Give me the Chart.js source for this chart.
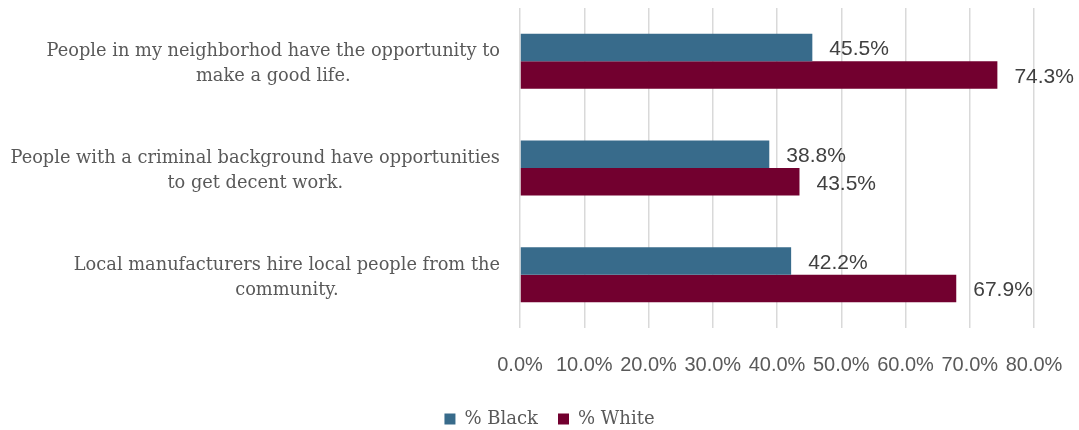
<!DOCTYPE html>
<html>
<head>
<meta charset="utf-8">
<script src="https://cdn.jsdelivr.net/npm/chart.js@4.4.1/dist/chart.umd.min.js"></script>
<style>
html,body{margin:0;padding:0;background:#fff;}
#wrap{width:1079px;height:430px;position:relative;}
</style>
</head>
<body>
<div id="wrap"><canvas id="c" width="1079" height="430"></canvas></div>
<script>
const categories = [
  ["People in my neighborhod have the opportunity to", "make a good life."],
  ["People with a criminal background have opportunities", "to get decent work."],
  ["Local manufacturers hire local people from the", "community."]
];
const blackValues = [45.5, 38.8, 42.2];
const whiteValues = [74.3, 43.5, 67.9];
const seriesNames = ["% Black", "% White"];
const xTicks = [0, 10, 20, 30, 40, 50, 60, 70, 80];

const SERIF = '"DejaVu Serif", serif';
const SANS = '"Liberation Sans", Arial, sans-serif';

const catLabelPlugin = {
  id: 'catLabels',
  afterDraw(chart) {
    const ctx = chart.ctx;
    const y = chart.scales.y;
    ctx.save();
    ctx.font = '17.8px ' + SERIF;
    ctx.fillStyle = '#595959';
    ctx.textBaseline = 'middle';
    const right = 500;
    const lh = 25;
    categories.forEach((lines, i) => {
      const cy = y.getPixelForValue(i) + 3;
      const widths = lines.map(l => ctx.measureText(l).width);
      const w = Math.max(...widths);
      const cx = right - w / 2;
      ctx.textAlign = 'center';
      lines.forEach((l, k) => {
        const ly = cy + (k - (lines.length - 1) / 2) * lh;
        ctx.fillText(l, cx, ly);
      });
    });
    ctx.restore();
  }
};

const valueLabelPlugin = {
  id: 'valueLabels',
  afterDatasetsDraw(chart) {
    const ctx = chart.ctx;
    ctx.save();
    ctx.font = '21px ' + SANS;
    ctx.fillStyle = '#404040';
    ctx.textAlign = 'left';
    ctx.textBaseline = 'middle';
    chart.data.datasets.forEach((ds, di) => {
      const meta = chart.getDatasetMeta(di);
      meta.data.forEach((bar, j) => {
        ctx.fillText(ds.data[j].toFixed(1) + '%', bar.x + 17, bar.y + 2);
      });
    });
    ctx.restore();
  }
};

new Chart(document.getElementById('c'), {
  type: 'bar',
  data: {
    labels: categories,
    datasets: [
      { label: seriesNames[0], data: blackValues, backgroundColor: '#386B8B', borderWidth: 0 },
      { label: seriesNames[1], data: whiteValues, backgroundColor: '#72002F', borderWidth: 0 }
    ]
  },
  options: {
    indexAxis: 'y',
    responsive: false,
    animation: false,
    layout: { padding: { top: 8, right: 45, left: 65, bottom: -8 } },
    plugins: {
      legend: {
        position: 'bottom',
        labels: {
          boxWidth: 11, boxHeight: 11, padding: 20,
          color: '#595959',
          font: { family: SERIF, size: 18 }
        }
      },
      tooltip: { enabled: false }
    },
    datasets: { bar: { categoryPercentage: 0.515, barPercentage: 1.0 } },
    scales: {
      x: {
        min: 0, max: 80,
        afterBuildTicks(scale) { scale.ticks = xTicks.map(v => ({ value: v })); },
        afterFit(scale) { scale.height = 62; scale.paddingRight = 0; scale.paddingLeft = 0; },
        ticks: {
          callback: v => Number(v).toFixed(1) + '%',
          color: '#595959',
          font: { family: SANS, size: 20 },
          padding: 25,
          maxRotation: 0, autoSkip: false
        },
        grid: { color: '#d9d9d9', lineWidth: 1.5, drawTicks: false },
        border: { display: false }
      },
      y: {
        afterFit(scale) { scale.width = 455; },
        ticks: { display: false },
        grid: { display: false },
        border: { display: false }
      }
    }
  },
  plugins: [catLabelPlugin, valueLabelPlugin]
});
</script>
</body>
</html>
